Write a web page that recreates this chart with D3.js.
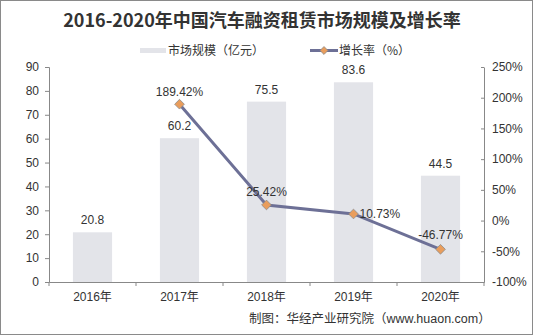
<!DOCTYPE html>
<html>
<head>
<meta charset="utf-8">
<script src="https://cdn.jsdelivr.net/npm/d3@7"></script>
<style>
  body { margin: 0; background: #fff; }
  text { font-family: "Liberation Sans", Arial, sans-serif; }
</style>
</head>
<body>
<svg id="chart" width="533" height="335"></svg>
<script>
var years = ["2016年", "2017年", "2018年", "2019年", "2020年"];
var marketSize = [20.8, 60.2, 75.5, 83.6, 44.5];
var growthRate = [null, 189.42, 25.42, 10.73, -46.77];
var leftTicks = [0, 10, 20, 30, 40, 50, 60, 70, 80, 90];
var rightTicks = [-100, -50, 0, 50, 100, 150, 200, 250];

var svg = d3.select("#chart");

var margins = { top: 67, bottom: 53, left: 49, right: 49 };
var width = 533 - margins.left - margins.right;
var height = 335 - margins.top - margins.bottom;

// outer frame
svg.append("rect")
  .attr("x", 0.5).attr("y", 0.5)
  .attr("width", 532).attr("height", 334)
  .attr("fill", "none").attr("stroke", "#8a8a8a");

// title
svg.append("text")
  .attr("x", 262).attr("y", 27)
  .attr("text-anchor", "middle")
  .style("font-family", "'Noto Sans CJK SC', sans-serif")
  .style("font-weight", "bold")
  .style("font-size", "18px")
  .attr("fill", "#333")
  .text("2016-2020年中国汽车融资租赁市场规模及增长率");

// legend
var lg = svg.append("g").style("font-size", "12px");
lg.append("rect").attr("x", 140).attr("y", 48).attr("width", 26).attr("height", 5).attr("fill", "#e3e4e9");
lg.append("text").attr("x", 168).attr("y", 55).attr("fill", "#333")
  .style("font-family", "'Noto Sans CJK SC', sans-serif").text("市场规模（亿元）");
lg.append("line").attr("x1", 310).attr("x2", 338).attr("y1", 50.5).attr("y2", 50.5)
  .attr("stroke", "#6d7096").attr("stroke-width", 3);
lg.append("path").attr("d", d3.symbol().type(d3.symbolDiamond2).size(40)())
  .attr("transform", "translate(324,50.5)")
  .attr("fill", "#e99d5c").attr("stroke", "#8b8b8b").attr("stroke-width", 0.8);
lg.append("text").attr("x", 339).attr("y", 55).attr("fill", "#333")
  .style("font-family", "'Noto Sans CJK SC', sans-serif").text("增长率（%）");

var xScale = d3.scaleBand().domain(years).range([0, width]).paddingInner(0.55).paddingOuter(0.275);
var xBand = d3.scaleBand().domain(years).range([0, width]);
var yLeft = d3.scaleLinear().domain([0, 90]).range([height, 0]);
var yRight = d3.scaleLinear().domain([-100, 250]).range([height, 0]);

var plot = svg.append("g").attr("transform", "translate(" + margins.left + "," + margins.top + ")");

// bars
plot.selectAll("rect.bar")
  .data(marketSize)
  .enter()
  .append("rect")
  .attr("class", "bar")
  .attr("x", function(d, i) { return xScale(years[i]); })
  .attr("y", function(d) { return yLeft(d); })
  .attr("width", xScale.bandwidth())
  .attr("height", function(d) { return height - yLeft(d); })
  .attr("fill", "#e3e4e9");

plot.selectAll("text.barlabel")
  .data(marketSize)
  .enter()
  .append("text")
  .attr("x", function(d, i) { return xScale(years[i]) + xScale.bandwidth() / 2; })
  .attr("y", function(d) { return yLeft(d) - 8; })
  .attr("text-anchor", "middle")
  .style("font-size", "12px")
  .attr("fill", "#333")
  .text(function(d) { return d.toFixed(1); });

// axes
var leftAxis = d3.axisLeft(yLeft).tickValues(leftTicks).tickSize(4).tickPadding(6);
var gl = plot.append("g").call(leftAxis);
var rightAxis = d3.axisRight(yRight).tickValues(rightTicks).tickSize(0).tickPadding(8)
  .tickFormat(function(d) { return d + "%"; });
var gr = plot.append("g").attr("transform", "translate(" + width + ",0)").call(rightAxis);
gr.selectAll(".tick").append("line").attr("x1", -3).attr("x2", 0).attr("stroke", "#888");

var bottomAxis = d3.axisBottom(xBand).tickSize(0).tickPadding(10);
var gb = plot.append("g").attr("transform", "translate(0," + height + ")").call(bottomAxis);
gb.selectAll(".boundary")
  .data(d3.range(years.length + 1))
  .enter()
  .append("line")
  .attr("x1", function(d) { return d * xBand.bandwidth(); })
  .attr("x2", function(d) { return d * xBand.bandwidth(); })
  .attr("y1", 0).attr("y2", 4)
  .attr("stroke", "#888");

[gl, gr, gb].forEach(function(g) {
  g.select(".domain").attr("stroke", "#888");
  g.selectAll(".tick line").attr("stroke", "#888");
  g.selectAll("text").style("font-size", "12px").attr("fill", "#333")
    .style("font-family", "'Liberation Sans', 'Noto Sans CJK SC', sans-serif");
});

// growth line
var pts = growthRate.map(function(d, i) { return { v: d, i: i }; }).filter(function(d) { return d.v !== null; });
var line = d3.line()
  .x(function(d) { return xBand(years[d.i]) + xBand.bandwidth() / 2; })
  .y(function(d) { return yRight(d.v); });

plot.append("path")
  .datum(pts)
  .attr("d", line)
  .attr("fill", "none")
  .attr("stroke", "#6d7096")
  .attr("stroke-width", 3);

plot.selectAll("path.marker")
  .data(pts)
  .enter()
  .append("path")
  .attr("class", "marker")
  .attr("d", d3.symbol().type(d3.symbolDiamond2).size(60)())
  .attr("transform", function(d) {
    return "translate(" + (xBand(years[d.i]) + xBand.bandwidth() / 2) + "," + yRight(d.v) + ")";
  })
  .attr("fill", "#e99d5c")
  .attr("stroke", "#8b8b8b")
  .attr("stroke-width", 0.8);

var labelOffsets = [null, [0, -8, "middle"], [0, -9, "middle"], [6, 4, "start"], [0, -10, "middle"]];
plot.selectAll("text.ratelabel")
  .data(pts)
  .enter()
  .append("text")
  .attr("x", function(d) { return xBand(years[d.i]) + xBand.bandwidth() / 2 + labelOffsets[d.i][0]; })
  .attr("y", function(d) { return yRight(d.v) + labelOffsets[d.i][1]; })
  .attr("text-anchor", function(d) { return labelOffsets[d.i][2]; })
  .style("font-size", "12px")
  .attr("fill", "#333")
  .text(function(d) { return d.v.toFixed(2) + "%"; });

// source note
svg.append("text")
  .attr("x", 249).attr("y", 323)
  .attr("text-anchor", "start")
  .style("font-family", "'Liberation Sans', 'Noto Sans CJK SC', sans-serif")
  .style("font-size", "12.5px")
  .attr("fill", "#333")
  .text("制图：华经产业研究院（www.huaon.com）");
</script>
</body>
</html>
